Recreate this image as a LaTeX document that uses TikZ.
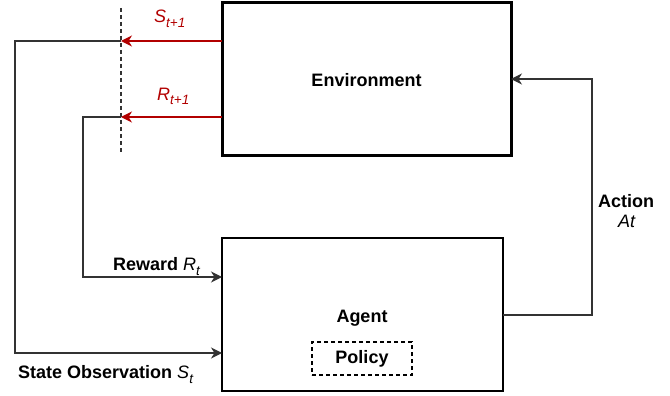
\documentclass[tikz,border=0pt]{standalone}
\usepackage{fontspec}
\setmainfont{Liberation Sans}
\usetikzlibrary{arrows.meta}
\definecolor{dred}{HTML}{B20000}
\definecolor{lgray}{HTML}{333333}
\newcommand\mysub[1]{\raisebox{-5pt}{\fontsize{13.5}{15}\selectfont\itshape #1}}
\tikzset{
  box/.style={draw=black, rectangle, inner sep=0pt, outer sep=0pt},
  conn/.style={draw=lgray, line width=1.3pt},
  redconn/.style={draw=dred, line width=1.5pt},
  tip/.style={-{Stealth[length=11pt,width=11pt,inset=3.5pt]}},
  lbl/.style={font=\fontsize{18}{21}\selectfont, inner sep=0pt},
}
\begin{document}
\begin{tikzpicture}[x=1pt,y=-1pt]
\useasboundingbox (0,0) rectangle (670,396);
% boxes
\node[box, line width=3pt, minimum width=289pt, minimum height=152.5pt] (env) at (366.5,78.75) {};
\node[lbl, font=\fontsize{18}{21}\selectfont\bfseries] (envt) at (366.5,80) {Environment};
\node[box, line width=1.5pt, minimum width=281pt, minimum height=153pt] (agent) at (362.5,314.5) {};
\node[lbl, font=\fontsize{18}{21}\selectfont\bfseries, anchor=base] (agentt) at (362,322) {Agent};
\node[box, dashed, line width=1.3pt, dash pattern=on 4pt off 3pt, minimum width=100pt, minimum height=33pt,
      font=\fontsize{18}{21}\selectfont\bfseries] (policy) at (362,358.5) {Policy};
% dashed divider
\coordinate (dtop) at (121,8);
\coordinate (dbot) at (121,153);
\draw[lgray, line width=1.3pt, dash pattern=on 4pt off 3pt] (dtop) -- (dbot);
% junction points
\coordinate (sj) at (121,41);
\coordinate (rj) at (121,117);
\coordinate (sl) at (15,41);
\coordinate (rl) at (83,117);
\coordinate (sy) at (0,353);
\coordinate (ry) at (0,277);
\coordinate (ax) at (592,315);
\coordinate (ay) at (0,79);
% red arrows from environment
\draw[redconn, tip] (env.west |- sj) -- (sj);
\draw[redconn, tip] (env.west |- rj) -- (rj);
% feedback lines to agent
\draw[conn, tip] (sj) -- (sl) |- (agent.west |- sy);
\draw[conn, tip] (rj) -- (rl) |- (agent.west |- ry);
% action
\draw[conn, tip] (agent.east |- ax) -- (ax) |- (env.east |- ay);
% labels
\node[lbl, text=dred, anchor=base west] (slab) at (154,23) {\textit{S}\mysub{t+1}};
\node[lbl, text=dred, anchor=base west] (rlab) at (157,100) {\textit{R}\mysub{t+1}};
\node[lbl, anchor=base west] (rewl) at (113,270) {\textbf{Reward} \textit{R}\mysub{t}};
\node[lbl, anchor=base west] (stl) at (18,378) {\textbf{State Observation} \textit{S}\mysub{t}};
\node[lbl, anchor=base] (actl) at (626,207) {\textbf{Action}};
\node[lbl, anchor=base] (atl) at (627,227) {\textit{At}};
\end{tikzpicture}
\end{document}
